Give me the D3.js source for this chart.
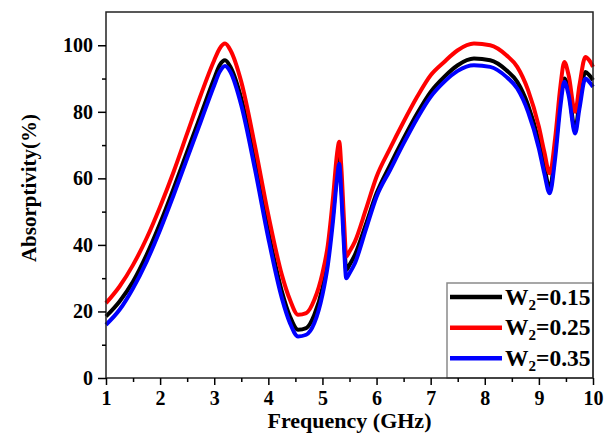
<!DOCTYPE html>
<html>
<head>
<meta charset="utf-8">
<script src="https://cdn.jsdelivr.net/npm/d3@7"></script>
<style>
  html, body { margin: 0; padding: 0; background: #fff; }
  svg { display: block; }
  text { font-family: "Liberation Serif", "Times New Roman", serif; font-weight: bold; fill: #000; }
</style>
</head>
<body>
<svg id="chart" width="611" height="441"></svg>
<script>
// ---- data ----
const freq = [1, 1.25, 1.5, 1.75, 2, 2.25, 2.5, 2.75, 3, 3.1, 3.2, 3.3, 3.5, 3.75, 4, 4.25, 4.4, 4.55, 4.7, 4.85,
  5, 5.1, 5.2, 5.27, 5.31, 5.35, 5.4, 5.44, 5.5, 5.6, 5.8, 6, 6.25, 6.5, 6.75, 7, 7.25, 7.5, 7.8, 8.1, 8.4, 8.6, 8.8,
  9, 9.1, 9.2, 9.3, 9.4, 9.47, 9.55, 9.67, 9.75, 9.86, 9.93, 10];

const w015 = [18.5, 23, 29, 37, 46.5, 57, 68, 79, 90, 94, 95.5, 93.5, 84, 65, 44, 26, 18.5, 14.5, 15, 19,
  27, 36, 50, 62, 66.4, 58, 42, 32.5, 34, 37, 46, 55.5, 64, 72, 79.5, 86, 90.5, 94, 96, 95.5, 92.5, 89, 82,
  71, 63.5, 57, 68, 84, 90, 86.5, 74.5, 83, 92, 91, 89.5];

const w025 = [22.5, 27.5, 34, 42, 51.5, 62, 73.5, 85, 95.5, 99, 100.5, 98.5, 89, 70, 49, 31, 23.5, 19, 19.5, 23.5,
  31.5, 40, 55, 67.5, 71, 63, 47, 36.5, 38, 41, 50.5, 60.5, 69, 77, 84.5, 91, 95, 98.5, 100.5, 100, 97, 93.5, 86.5,
  75.5, 68, 61.5, 72, 88, 95, 91, 80, 88, 96.5, 95.5, 93.5];

const w035 = [16, 20.5, 27, 35, 44.5, 55, 66, 77, 88, 92, 93.8, 92, 82, 63, 42, 24, 16.5, 12.5, 13, 16.5,
  25, 34, 48, 60, 64.4, 55, 39, 30, 31.5, 34.5, 44.5, 54.5, 62.5, 70.5, 78, 84.5, 89, 92.3, 94, 93.5, 90.5, 87, 80,
  69, 61.5, 55.5, 66, 82, 89, 85, 73.5, 81, 90, 89, 87.5];

const seriesNames = ["W2=0.15", "W2=0.25", "W2=0.35"];
const seriesLabelMain = ["W", "W", "W"];
const seriesLabelSub = ["2", "2", "2"];
const seriesLabelRest = ["=0.15", "=0.25", "=0.35"];
const seriesColors = ["#000000", "#ff0000", "#0000ff"];
const seriesValues = [w015, w025, w035];

const xTicks = [1, 2, 3, 4, 5, 6, 7, 8, 9, 10];
const xMinor = [1.5, 2.5, 3.5, 4.5, 5.5, 6.5, 7.5, 8.5, 9.5];
const yTicks = [0, 20, 40, 60, 80, 100];
const yMinor = [10, 30, 50, 70, 90];

// ---- layout ----
const L = 106, R = 593, T = 12, B = 378;
const svg = d3.select("#chart");
svg.append("rect").attr("width", 611).attr("height", 441).attr("fill", "#fff");

const x = d3.scaleLinear().domain([1, 10]).range([L, R]);
const y = d3.scaleLinear().domain([0, 110]).range([B, T]);

// curves
const line = d3.line().x(d => x(d[0])).y(d => y(d[1])).curve(d3.curveMonotoneX);
const gLines = svg.append("g");
seriesValues.forEach((vals, i) => {
  gLines.append("path")
    .datum(freq.map((f, k) => [f, vals[k]]))
    .attr("fill", "none")
    .attr("stroke", seriesColors[i])
    .attr("stroke-width", 4)
    .attr("stroke-linejoin", "round")
    .attr("d", line);
});

// legend
const lg = svg.append("g");
lg.append("rect").attr("x", 447).attr("y", 283).attr("width", R - 447).attr("height", B - 283)
  .attr("fill", "#fff").attr("stroke", "#8a8a8a").attr("stroke-width", 1.5);
const rowY = [297, 327.7, 358.3];
seriesNames.forEach((n, i) => {
  lg.append("line").attr("x1", 450).attr("x2", 502).attr("y1", rowY[i]).attr("y2", rowY[i])
    .attr("stroke", seriesColors[i]).attr("stroke-width", 4.5);
  const t = lg.append("text").attr("x", 505).attr("y", rowY[i] + 7.5).style("font-size", "23.5px");
  t.append("tspan").text(seriesLabelMain[i]);
  t.append("tspan").attr("dy", 5).style("font-size", "15px").text(seriesLabelSub[i]);
  t.append("tspan").attr("dy", -5).text(seriesLabelRest[i]);
});

// frame
svg.append("rect").attr("x", L).attr("y", T).attr("width", R - L).attr("height", B - T)
  .attr("fill", "none").attr("stroke", "#222").attr("stroke-width", 1.5);

// x axis
const xAxis = svg.append("g").attr("transform", `translate(0,${B})`)
  .call(d3.axisBottom(x).tickValues(xTicks).tickSize(7).tickPadding(6).tickFormat(d3.format("d")));
xAxis.select(".domain").remove();
xAxis.selectAll(".tick line").attr("stroke", "#000").attr("stroke-width", 1.5);
xAxis.selectAll(".tick text").style("font-size", "20px").style("font-family", "Liberation Serif").style("font-weight", "bold").attr("fill", "#000");
const xAxisMinor = svg.append("g").attr("transform", `translate(0,${B})`)
  .call(d3.axisBottom(x).tickValues(xMinor).tickSize(4).tickFormat(""));
xAxisMinor.select(".domain").remove();
xAxisMinor.selectAll(".tick line").attr("stroke", "#000").attr("stroke-width", 1.5);

// y axis
const yAxis = svg.append("g").attr("transform", `translate(${L},0)`)
  .call(d3.axisLeft(y).tickValues(yTicks).tickSize(8).tickPadding(5).tickFormat(d3.format("d")));
yAxis.select(".domain").remove();
yAxis.selectAll(".tick line").attr("stroke", "#000").attr("stroke-width", 1.5);
yAxis.selectAll(".tick text").style("font-size", "20px").style("font-family", "Liberation Serif").style("font-weight", "bold").attr("fill", "#000");
const yAxisMinor = svg.append("g").attr("transform", `translate(${L},0)`)
  .call(d3.axisLeft(y).tickValues(yMinor).tickSize(4).tickFormat(""));
yAxisMinor.select(".domain").remove();
yAxisMinor.selectAll(".tick line").attr("stroke", "#000").attr("stroke-width", 1.5);

// axis titles
svg.append("text").attr("x", (L + R) / 2 + 0).attr("y", 428).attr("text-anchor", "middle")
  .style("font-size", "22px").text("Frequency (GHz)");
svg.append("text").attr("transform", `translate(36,188) rotate(-90)`).attr("text-anchor", "middle")
  .style("font-size", "21px").text("Absorptivity(%)");
</script>
</body>
</html>
